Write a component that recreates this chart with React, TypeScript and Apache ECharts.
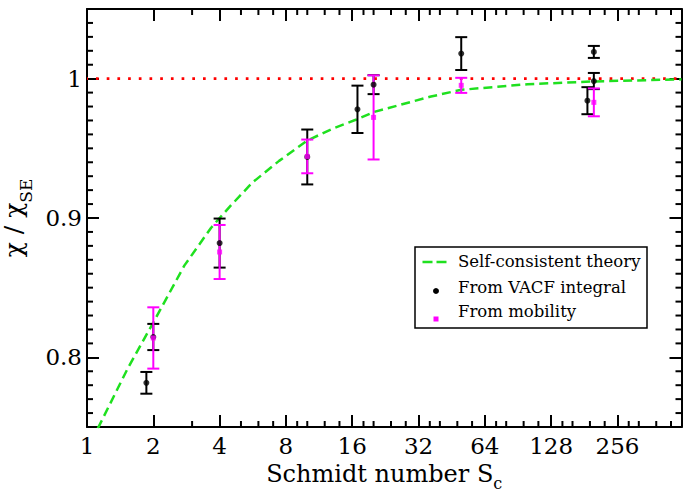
import React, { useEffect, useRef } from 'react';
import * as echarts from 'echarts';

const FONT = 'DejaVu Serif';
const GREEN = '#1fe01f';
const RED = '#ff0000';
const MAGENTA = '#ff00ff';

const X_MIN = 1;
const X_MAX = 500;
const Y_MIN = 0.75;
const Y_MAX = 1.05;

// Major tick labels are produced by the log2 axis: 1, 2, 4, ... 256
const xMinorTicks = [3, 5, 6, 7, 9, 10, 12, 14, 18, 20, 24, 28, 36, 40, 48, 56, 72, 80, 96, 112, 144, 160, 192, 224, 288, 320, 384, 448];
const yMinorTicks = [0.76, 0.77, 0.78, 0.79, 0.81, 0.82, 0.83, 0.84, 0.85, 0.86, 0.87, 0.88, 0.89, 0.91, 0.92, 0.93, 0.94, 0.95, 0.96, 0.97, 0.98, 0.99, 1.01, 1.02, 1.03, 1.04];

// Self-consistent theory
const theoryS = [1.12, 1.53, 2.0, 2.77, 3.66, 4.0, 4.5, 5.64, 7.45, 10, 13, 16.6, 20, 36, 50, 100, 200, 500];
const theoryV = [0.749, 0.792, 0.825, 0.866, 0.893, 0.9, 0.909, 0.9255, 0.941, 0.9556, 0.964, 0.9705, 0.976, 0.987, 0.992, 0.996, 0.998, 0.9995];

// From VACF integral
const vacfS = [1.86, 2, 4, 10, 16.9, 20, 50, 187, 200, 200];
const vacfV = [0.7817, 0.8146, 0.882, 0.9438, 0.978, 0.9957, 1.018, 0.9842, 1.0192, 0.9983];
const vacfErr = [0.0078, 0.0094, 0.0176, 0.0197, 0.017, 0.0068, 0.0118, 0.0097, 0.0043, 0.0058];

// From mobility
const mobS = [2, 4, 10, 20, 50, 200];
const mobV = [0.8139, 0.8756, 0.9442, 0.9722, 0.9952, 0.983];
const mobErr = [0.022, 0.0194, 0.0121, 0.0302, 0.0054, 0.01];

const RED_LINE = [[X_MIN, 1], [X_MAX, 1]];

const LEGEND_LABELS = ['Self-consistent theory', 'From VACF integral', 'From mobility'];

function errorBarSeries(name: string, s: number[], v: number[], e: number[], color: string) {
  return {
    name,
    type: 'custom',
    silent: true,
    clip: false,
    z: 3,
    encode: { x: 0, y: 1 },
    data: s.map((x, i) => [x, v[i], e[i]]),
    renderItem: (_p: any, api: any) => {
      const x = api.value(0);
      const y = api.value(1);
      const err = api.value(2);
      const top = api.coord([x, y + err]);
      const bot = api.coord([x, y - err]);
      const hw = 6;
      const st = { stroke: color, lineWidth: 2 };
      return {
        type: 'group',
        children: [
          { type: 'line', shape: { x1: top[0], y1: top[1], x2: bot[0], y2: bot[1] }, style: st },
          { type: 'line', shape: { x1: top[0] - hw, y1: top[1], x2: top[0] + hw, y2: top[1] }, style: st },
          { type: 'line', shape: { x1: bot[0] - hw, y1: bot[1], x2: bot[0] + hw, y2: bot[1] }, style: st },
        ],
      };
    },
  };
}

export default function App() {
  const ref = useRef<HTMLDivElement>(null);

  useEffect(() => {
    document.body.style.margin = '0';
    const chart = echarts.init(ref.current as HTMLDivElement, null, { renderer: 'svg' });

    const axisLine = { show: true, onZero: false, lineStyle: { color: '#000', width: 2 } };
    const axisTick = { show: true, inside: true, length: 12, lineStyle: { color: '#000', width: 2 } };
    const minorLen = 6;
    const tickStyle = { stroke: '#000', lineWidth: 2 };

    const legendText = (i: number, y: number) => ({
      type: 'text',
      z: 101,
      x: 458,
      y,
      style: {
        text: LEGEND_LABELS[i],
        fontFamily: FONT,
        fontSize: 16.5,
        fill: '#000',
        align: 'left',
        verticalAlign: 'middle',
      },
    });

    const option: any = {
      animation: false,
      backgroundColor: '#fff',
      textStyle: { fontFamily: FONT },
      grid: { left: 87, right: 1.5, top: 9, bottom: 65, outerBoundsMode: 'none', containLabel: false },
      xAxis: [
        {
          type: 'log',
          logBase: 2,
          min: X_MIN,
          max: X_MAX,
          position: 'bottom',
          axisLine,
          axisTick,
          splitLine: { show: false },
          axisLabel: {
            show: true,
            margin: 7,
            showMaxLabel: false,
            color: '#000',
            fontFamily: FONT,
            fontSize: 23,
          },
          name: '{a|Schmidt number S}{b|c}',
          nameLocation: 'middle',
          nameGap: 29,
          nameTextStyle: {
            color: '#000',
            fontFamily: FONT,
            fontSize: 24,
            rich: {
              a: { fontFamily: FONT, fontSize: 24, lineHeight: 24, color: '#000', verticalAlign: 'top' },
              b: { fontFamily: FONT, fontSize: 16, lineHeight: 16, color: '#000', verticalAlign: 'top', padding: [14, 0, 0, 0] },
            },
          },
        },
        {
          type: 'log',
          logBase: 2,
          min: X_MIN,
          max: X_MAX,
          position: 'top',
          axisLine,
          axisTick,
          splitLine: { show: false },
          axisLabel: { show: false },
        },
      ],
      yAxis: [
        {
          type: 'value',
          min: Y_MIN,
          max: Y_MAX,
          splitNumber: 3,
          position: 'left',
          axisLine,
          axisTick,
          splitLine: { show: false },
          axisLabel: {
            show: true,
            margin: 5,
            showMinLabel: false,
            showMaxLabel: false,
            color: '#000',
            fontFamily: FONT,
            fontSize: 23,
          },
          name: '{a|χ / χ}{b|SE}',
          nameLocation: 'middle',
          nameRotate: 90,
          nameGap: 47.5,
          nameTextStyle: {
            color: '#000',
            fontFamily: FONT,
            fontSize: 25,
            rich: {
              a: { fontFamily: FONT, fontSize: 25, lineHeight: 25, color: '#000', verticalAlign: 'top' },
              b: { fontFamily: FONT, fontSize: 17, lineHeight: 17, color: '#000', verticalAlign: 'top', padding: [17, 0, 0, 0] },
            },
          },
        },
        {
          type: 'value',
          min: Y_MIN,
          max: Y_MAX,
          splitNumber: 3,
          position: 'right',
          axisLine,
          axisTick,
          splitLine: { show: false },
          axisLabel: { show: false },
        },
      ],
      series: [
        {
          name: 'minor x ticks',
          type: 'custom',
          silent: true,
          clip: false,
          z: 6,
          encode: { x: 0, y: 1 },
          data: xMinorTicks.map((s) => [s, Y_MIN]),
          renderItem: (_p: any, api: any) => {
            const s = api.value(0);
            const b = api.coord([s, Y_MIN]);
            const t = api.coord([s, Y_MAX]);
            return {
              type: 'group',
              children: [
                { type: 'line', shape: { x1: b[0], y1: b[1], x2: b[0], y2: b[1] - minorLen }, style: tickStyle },
                { type: 'line', shape: { x1: t[0], y1: t[1], x2: t[0], y2: t[1] + minorLen }, style: tickStyle },
              ],
            };
          },
        },
        {
          name: 'minor y ticks',
          type: 'custom',
          silent: true,
          clip: false,
          z: 6,
          encode: { x: 0, y: 1 },
          data: yMinorTicks.map((v) => [X_MIN, v]),
          renderItem: (_p: any, api: any) => {
            const v = api.value(1);
            const l = api.coord([X_MIN, v]);
            const r = api.coord([X_MAX, v]);
            return {
              type: 'group',
              children: [
                { type: 'line', shape: { x1: l[0], y1: l[1], x2: l[0] + minorLen, y2: l[1] }, style: tickStyle },
                { type: 'line', shape: { x1: r[0], y1: r[1], x2: r[0] - minorLen, y2: r[1] }, style: tickStyle },
              ],
            };
          },
        },
        {
          name: 'SE limit',
          type: 'line',
          data: RED_LINE,
          symbol: 'none',
          silent: true,
          z: 2,
          lineStyle: { color: RED, width: 2.7, type: [2.7, 8], cap: 'butt', dashOffset: -9 },
        },
        {
          name: 'Self-consistent theory',
          type: 'line',
          data: theoryS.map((s, i) => [s, theoryV[i]]),
          symbol: 'none',
          smooth: false,
          silent: true,
          z: 2,
          lineStyle: { color: GREEN, width: 2.5, type: [9, 5], cap: 'butt' },
        },
        errorBarSeries('VACF error', vacfS, vacfV, vacfErr, '#000'),
        {
          name: 'From VACF integral',
          type: 'scatter',
          data: vacfS.map((s, i) => [s, vacfV[i]]),
          symbol: 'circle',
          symbolSize: 6,
          z: 4,
          itemStyle: { color: '#000' },
        },
        errorBarSeries('Mobility error', mobS, mobV, mobErr, MAGENTA),
        {
          name: 'From mobility',
          type: 'scatter',
          data: mobS.map((s, i) => [s, mobV[i]]),
          symbol: 'rect',
          symbolSize: 5,
          z: 4,
          itemStyle: { color: MAGENTA },
        },
      ],
      graphic: [
        {
          type: 'rect',
          z: 100,
          shape: { x: 415, y: 247, width: 232, height: 81 },
          style: { fill: '#fff', stroke: '#000', lineWidth: 1.5 },
        },
        {
          type: 'line',
          z: 101,
          shape: { x1: 422.5, y1: 262, x2: 448, y2: 262 },
          style: { stroke: GREEN, lineWidth: 2.5, lineDash: [10, 4] },
        },
        { type: 'circle', z: 101, shape: { cx: 436, cy: 291, r: 3 }, style: { fill: '#000' } },
        { type: 'rect', z: 101, shape: { x: 433.5, y: 316.5, width: 5, height: 5 }, style: { fill: MAGENTA } },
        legendText(0, 261.5),
        legendText(1, 287.5),
        legendText(2, 311.5),
      ],
    };

    chart.setOption(option);
    return () => {
      chart.dispose();
    };
  }, []);

  return <div ref={ref} style={{ width: 683, height: 492 }} />;
}
